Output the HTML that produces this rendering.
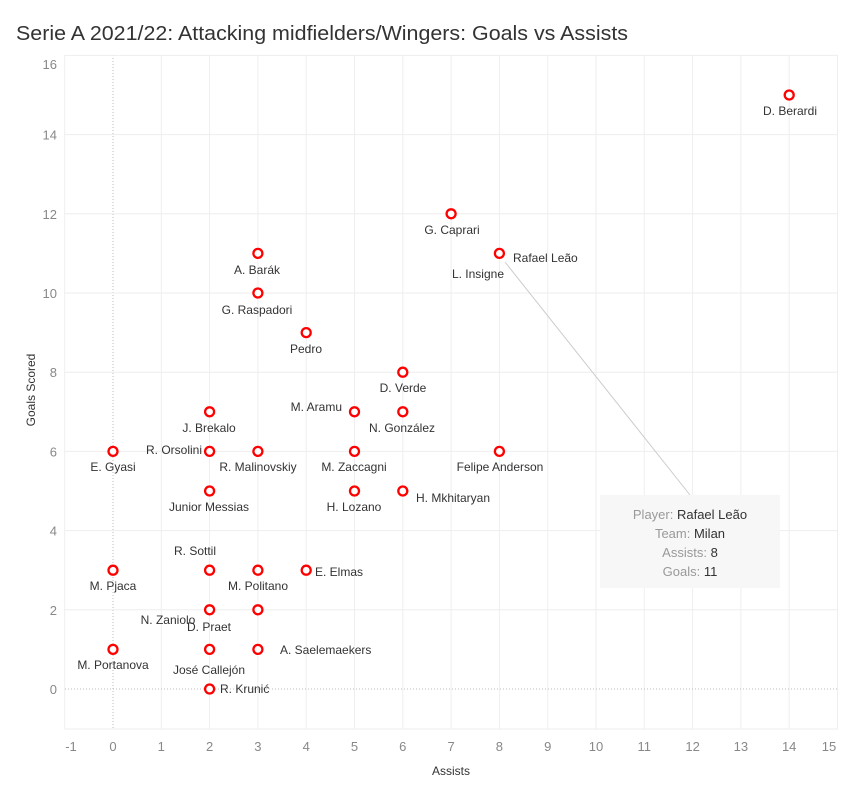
<!DOCTYPE html>
<html><head><meta charset="utf-8"><style>
html,body{margin:0;padding:0;background:#fff;}
svg{display:block;font-family:"Liberation Sans",sans-serif;}
.t{font-size:12px;fill:#333;}
.tk{font-size:13px;fill:#888;}
</style></head><body>
<svg width="849" height="797" viewBox="0 0 849 797">
<text x="16" y="40" font-size="20" fill="#333" textLength="612" lengthAdjust="spacingAndGlyphs">Serie A 2021/22: Attacking midfielders/Wingers: Goals vs Assists</text>
<g id="grid" stroke="#eeeeee" stroke-width="1"></g>
<g id="pts"></g>
<line x1="505" y1="262" x2="690" y2="495" stroke="#ccc" stroke-width="1"/>
<rect x="600" y="495" width="180" height="93" fill="#f7f7f7"/>
<g font-size="13" text-anchor="middle">
<text x="690" y="519"><tspan fill="#999">Player: </tspan><tspan fill="#333">Rafael Leão</tspan></text>
<text x="690" y="538"><tspan fill="#999">Team: </tspan><tspan fill="#333">Milan</tspan></text>
<text x="690" y="557"><tspan fill="#999">Assists: </tspan><tspan fill="#333">8</tspan></text>
<text x="690" y="576"><tspan fill="#999">Goals: </tspan><tspan fill="#333">11</tspan></text>
</g>
<text x="451" y="775" class="t" text-anchor="middle">Assists</text>
<text transform="translate(35,390) rotate(-90)" class="t" text-anchor="middle">Goals Scored</text>
</svg>
<script>
var ns="http://www.w3.org/2000/svg",svg=document.querySelector('svg');
function X(a){return 113+48.3*a;}function Y(g){return 689-39.6*g;}
var grid=document.getElementById('grid');
function el(p,n,at,txt){var e=document.createElementNS(ns,n);for(var k in at)e.setAttribute(k,at[k]);if(txt!=null)e.textContent=txt;p.appendChild(e);return e;}
for(var a=-1;a<=15;a++){var x=X(a);
 if(a==0)el(grid,'line',{x1:x,y1:55,x2:x,y2:729,stroke:'#bbb','stroke-dasharray':'1,2'});
 else el(grid,'line',{x1:x,y1:55,x2:x,y2:729});
 var tx=a==-1?71:(a==15?829:x);
 el(svg,'text',{x:tx,y:751,'class':'tk','text-anchor':'middle'},String(a));}
for(var g=0;g<=16;g+=2){var y=Y(g);
 if(g==0)el(grid,'line',{x1:65,y1:y,x2:838,y2:y,stroke:'#bbb','stroke-dasharray':'1,2'});
 else el(grid,'line',{x1:65,y1:y,x2:838,y2:y});
 el(svg,'text',{x:57,y:(g==16?69:y+5),'class':'tk','text-anchor':'end'},String(g));}
el(grid,'line',{x1:65,y1:729,x2:838,y2:729});
var P=[[14,15],[7,12],[8,11],[3,11],[3,10],[4,9],[6,8],[5,7],[6,7],[2,7],[0,6],[2,6],[3,6],[5,6],[8,6],[2,5],[5,5],[6,5],[2,3],[3,3],[4,3],[0,3],[2,2],[3,2],[0,1],[2,1],[3,1],[2,0]];
var pts=document.getElementById('pts');
P.forEach(function(p){el(pts,'circle',{cx:X(p[0]),cy:Y(p[1]),r:4.5,fill:'#fff',stroke:'#f00','stroke-width':2.3});});
var L=[["D. Berardi",790,115,'m'],["G. Caprari",452,234,'m'],["Rafael Leão",513,262,'s'],["L. Insigne",504,278,'e'],["A. Barák",257,274,'m'],["G. Raspadori",257,314,'m'],["Pedro",306,353,'m'],["D. Verde",403,392,'m'],["M. Aramu",342,411,'e'],["N. González",402,432,'m'],["J. Brekalo",209,432,'m'],["E. Gyasi",113,471,'m'],["R. Orsolini",202,454,'e'],["R. Malinovskiy",258,471,'m'],["M. Zaccagni",354,471,'m'],["Felipe Anderson",500,471,'m'],["Junior Messias",209,511,'m'],["H. Lozano",354,511,'m'],["H. Mkhitaryan",416,502,'s'],["R. Sottil",195,555,'m'],["M. Politano",258,590,'m'],["E. Elmas",315,576,'s'],["M. Pjaca",113,590,'m'],["N. Zaniolo",168,624,'m'],["D. Praet",209,631,'m'],["M. Portanova",113,669,'m'],["José Callejón",209,674,'m'],["A. Saelemaekers",280,654,'s'],["R. Krunić",220,693,'s']];
var an={m:'middle',s:'start',e:'end'};
L.forEach(function(l){el(svg,'text',{x:l[1],y:l[2],'class':'t','text-anchor':an[l[3]]},l[0]);});
</script>
</body></html>
